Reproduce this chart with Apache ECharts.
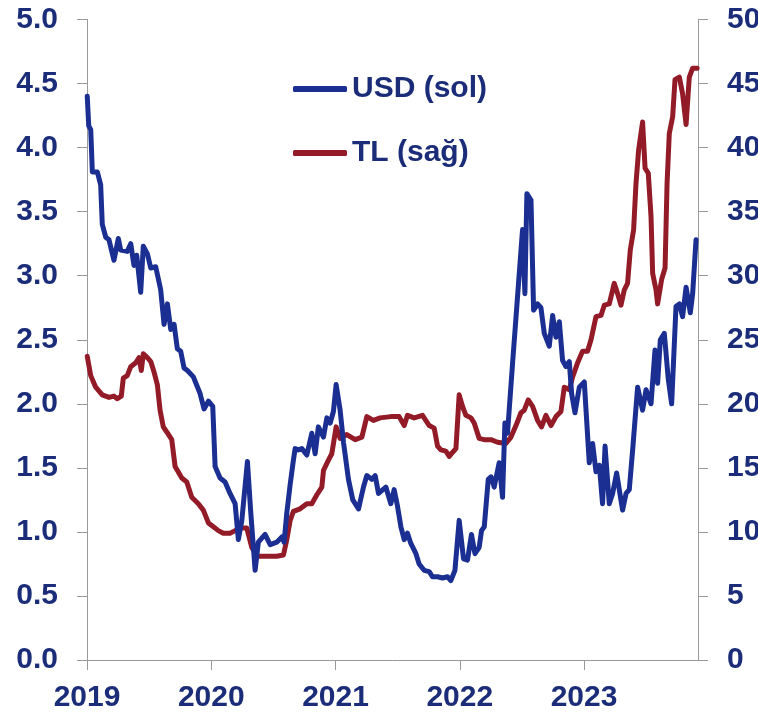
<!DOCTYPE html>
<html>
<head>
<meta charset="utf-8">
<script src="https://cdn.jsdelivr.net/npm/echarts@6/dist/echarts.min.js"></script>
<style>
  html, body { margin: 0; padding: 0; background: #fff; }
  #chart { width: 758px; height: 714px; }
</style>
</head>
<body>
<div id="chart"></div>
<script>
// x positions are decimal years (2019.5 = mid 2019)
const yearTicks = [2019, 2020, 2021, 2022, 2023];

const usdTime = [
  2019.002, 2019.014, 2019.030, 2019.043, 2019.083, 2019.110, 2019.123, 2019.151, 2019.177, 2019.217,
  2019.252, 2019.271, 2019.324, 2019.352, 2019.378, 2019.400, 2019.432, 2019.453, 2019.486, 2019.513,
  2019.553, 2019.593, 2019.620, 2019.647, 2019.674, 2019.701, 2019.727, 2019.754, 2019.781, 2019.808,
  2019.856, 2019.910, 2019.942, 2019.977, 2020.012, 2020.031, 2020.071, 2020.111, 2020.151, 2020.192,
  2020.218, 2020.246, 2020.291, 2020.318, 2020.353, 2020.379, 2020.433, 2020.474, 2020.527, 2020.568,
  2020.586, 2020.608, 2020.635, 2020.661, 2020.675, 2020.701, 2020.729, 2020.769, 2020.809, 2020.836,
  2020.862, 2020.903, 2020.930, 2020.957, 2020.983, 2021.005, 2021.037, 2021.064, 2021.104, 2021.139,
  2021.185, 2021.225, 2021.252, 2021.292, 2021.319, 2021.346, 2021.405, 2021.445, 2021.472, 2021.499,
  2021.526, 2021.553, 2021.579, 2021.606, 2021.647, 2021.673, 2021.713, 2021.754, 2021.780, 2021.821,
  2021.861, 2021.901, 2021.928, 2021.961, 2021.995, 2022.030, 2022.062, 2022.094, 2022.122, 2022.156,
  2022.175, 2022.197, 2022.229, 2022.251, 2022.277, 2022.317, 2022.344, 2022.363, 2022.384, 2022.425,
  2022.465, 2022.505, 2022.524, 2022.540, 2022.573, 2022.594, 2022.626, 2022.653, 2022.680, 2022.720,
  2022.747, 2022.774, 2022.801, 2022.827, 2022.854, 2022.881, 2022.900, 2022.927, 2022.962, 2023.002,
  2023.042, 2023.069, 2023.096, 2023.123, 2023.149, 2023.169, 2023.203, 2023.230, 2023.262, 2023.310,
  2023.338, 2023.364, 2023.391, 2023.431, 2023.471, 2023.499, 2023.539, 2023.571, 2023.592, 2023.614,
  2023.646, 2023.678, 2023.705, 2023.740, 2023.767, 2023.793, 2023.821, 2023.855, 2023.874, 2023.901
];
const usdValues = [
  4.40, 4.17, 4.14, 3.81, 3.81, 3.71, 3.40, 3.30, 3.28, 3.12,
  3.29, 3.20, 3.19, 3.25, 3.08, 3.16, 2.87, 3.23, 3.17, 3.06,
  3.07, 2.89, 2.62, 2.78, 2.58, 2.62, 2.43, 2.41, 2.28, 2.26,
  2.21, 2.08, 1.96, 2.02, 1.98, 1.51, 1.42, 1.39, 1.30, 1.22,
  0.94, 1.09, 1.55, 1.15, 0.70, 0.92, 0.98, 0.90, 0.92, 0.96,
  0.92, 1.15, 1.37, 1.56, 1.65, 1.64, 1.65, 1.60, 1.77, 1.61,
  1.82, 1.74, 1.89, 1.85, 1.94, 2.15, 1.95, 1.70, 1.41, 1.25,
  1.18, 1.35, 1.44, 1.41, 1.44, 1.30, 1.35, 1.22, 1.33, 1.20,
  1.04, 0.94, 0.99, 0.91, 0.83, 0.75, 0.70, 0.69, 0.65, 0.65,
  0.64, 0.65, 0.62, 0.70, 1.09, 0.79, 0.78, 0.98, 0.83, 0.88,
  1.01, 1.04, 1.41, 1.43, 1.35, 1.54, 1.27, 1.85, 1.77, 2.32,
  2.84, 3.36, 2.86, 3.64, 3.59, 2.73, 2.78, 2.75, 2.55, 2.45,
  2.69, 2.52, 2.64, 2.34, 2.29, 2.33, 2.08, 1.93, 2.13, 2.17,
  1.54, 1.69, 1.47, 1.52, 1.22, 1.67, 1.22, 1.30, 1.46, 1.17,
  1.30, 1.33, 1.64, 2.13, 1.95, 2.11, 2.00, 2.42, 2.16, 2.50,
  2.55, 2.19, 2.00, 2.76, 2.78, 2.68, 2.91, 2.71, 2.86, 3.28
];

const tlTime = [
  2019.002, 2019.030, 2019.070, 2019.123, 2019.177, 2019.217, 2019.244, 2019.276, 2019.292, 2019.324,
  2019.352, 2019.392, 2019.419, 2019.437, 2019.453, 2019.486, 2019.513, 2019.539, 2019.566, 2019.588,
  2019.614, 2019.642, 2019.682, 2019.709, 2019.763, 2019.803, 2019.843, 2019.896, 2019.936, 2019.977,
  2020.017, 2020.057, 2020.097, 2020.151, 2020.192, 2020.232, 2020.286, 2020.326, 2020.366, 2020.447,
  2020.527, 2020.581, 2020.608, 2020.635, 2020.661, 2020.715, 2020.769, 2020.809, 2020.850, 2020.890,
  2020.903, 2020.943, 2020.970, 2021.005, 2021.037, 2021.091, 2021.158, 2021.212, 2021.252, 2021.305,
  2021.359, 2021.445, 2021.512, 2021.553, 2021.579, 2021.633, 2021.700, 2021.754, 2021.794, 2021.821,
  2021.848, 2021.888, 2021.915, 2021.941, 2021.969, 2021.995, 2022.022, 2022.049, 2022.090, 2022.116,
  2022.156, 2022.197, 2022.251, 2022.304, 2022.371, 2022.412, 2022.452, 2022.492, 2022.519, 2022.551,
  2022.586, 2022.626, 2022.658, 2022.693, 2022.734, 2022.774, 2022.814, 2022.841, 2022.881, 2022.908,
  2022.948, 2022.988, 2023.028, 2023.056, 2023.096, 2023.136, 2023.163, 2023.203, 2023.243, 2023.270,
  2023.297, 2023.324, 2023.350, 2023.372, 2023.399, 2023.418, 2023.439, 2023.471, 2023.491, 2023.517,
  2023.539, 2023.552, 2023.579, 2023.592, 2023.624, 2023.652, 2023.668, 2023.686, 2023.713, 2023.732,
  2023.767, 2023.793, 2023.821, 2023.847, 2023.874, 2023.910
];
const tlValues = [
  23.7, 22.2, 21.3, 20.7, 20.5, 20.6, 20.4, 20.6, 22.0, 22.2,
  22.9, 23.2, 23.6, 22.6, 23.9, 23.6, 23.3, 22.5, 21.5, 19.5,
  18.2, 17.8, 17.2, 15.1, 14.2, 13.9, 12.7, 12.2, 11.7, 10.7,
  10.4, 10.1, 9.9, 9.9, 10.1, 10.3, 10.3, 8.8, 8.1, 8.1,
  8.1, 8.2, 9.4, 10.9, 11.6, 11.8, 12.2, 12.2, 12.9, 13.5,
  14.8, 15.6, 16.1, 18.2, 17.3, 17.6, 17.2, 17.4, 19.0, 18.7,
  18.9, 19.0, 19.0, 18.3, 19.1, 18.9, 19.1, 18.3, 18.1, 16.7,
  16.4, 16.3, 15.9, 16.2, 16.5, 20.7, 19.8, 19.1, 18.9, 18.5,
  17.3, 17.2, 17.2, 17.0, 16.9, 17.4, 18.3, 19.3, 19.5, 20.3,
  19.8, 18.7, 18.2, 19.1, 18.3, 19.0, 19.4, 21.3, 21.1, 22.1,
  23.2, 24.1, 24.1, 25.0, 26.8, 26.9, 27.7, 27.8, 29.4, 28.6,
  27.7, 28.9, 29.4, 32.0, 33.6, 37.2, 39.8, 42.0, 38.4, 38.0,
  34.6, 30.2, 28.9, 27.8, 29.7, 30.6, 37.2, 41.1, 42.4, 45.3,
  45.5, 44.2, 41.8, 45.5, 46.2, 46.2
];

const navy = '#1b2d78';
const blue = '#1a2f91';
const red = '#921b27';
const axisGrey = '#9a9a9a';
const font = '"Liberation Sans", Arial, sans-serif';
const labelSize = 30;

const chart = echarts.init(document.getElementById('chart'), null, { renderer: 'canvas' });

const yAxisCommon = {
  type: 'value',
  min: 0,
  splitLine: { show: false },
  axisLine: { show: true, lineStyle: { color: axisGrey, width: 1 } },
  axisTick: { show: true, length: 10, lineStyle: { color: axisGrey } },
  axisLabel: { color: navy, fontSize: labelSize, fontWeight: 'bold', fontFamily: font, margin: 29 }
};

const option = {
  animation: false,
  backgroundColor: '#ffffff',
  grid: { left: 87, right: 60, top: 19.5, bottom: 54, outerBoundsMode: 'none' },
  legend: {
    orient: 'vertical',
    left: 293,
    top: 74,
    padding: 0,
    itemWidth: 54,
    itemHeight: 6,
    itemGap: 34,
    icon: 'roundRect',
    textStyle: { color: navy, fontSize: labelSize, fontWeight: 'bold', fontFamily: font },
    data: ['USD (sol)', 'TL (sağ)']
  },
  xAxis: {
    type: 'value',
    min: 2019,
    max: 2023.917,
    splitLine: { show: false },
    axisLine: { lineStyle: { color: axisGrey } },
    axisTick: { length: 10, customValues: yearTicks, lineStyle: { color: axisGrey } },
    axisLabel: {
      customValues: yearTicks,
      formatter: v => String(v),
      color: navy, fontSize: labelSize, fontWeight: 'bold', fontFamily: font, margin: 23
    }
  },
  yAxis: [
    Object.assign({}, yAxisCommon, {
      max: 5, interval: 0.5, position: 'left',
      axisLabel: Object.assign({}, yAxisCommon.axisLabel, { formatter: v => v.toFixed(1) })
    }),
    Object.assign({}, yAxisCommon, {
      max: 50, interval: 5, position: 'right'
    })
  ],
  series: [
    {
      name: 'USD (sol)',
      type: 'line',
      yAxisIndex: 0,
      showSymbol: false,
      symbol: 'none',
      z: 3,
      color: blue,
      lineStyle: { width: 5, color: blue, cap: 'round', join: 'round' },
      data: usdTime.map((t, i) => [t, usdValues[i]])
    },
    {
      name: 'TL (sağ)',
      type: 'line',
      yAxisIndex: 1,
      showSymbol: false,
      symbol: 'none',
      z: 2,
      color: red,
      lineStyle: { width: 5, color: red, cap: 'round', join: 'round' },
      data: tlTime.map((t, i) => [t, tlValues[i]])
    }
  ]
};

chart.setOption(option);
</script>
</body>
</html>
